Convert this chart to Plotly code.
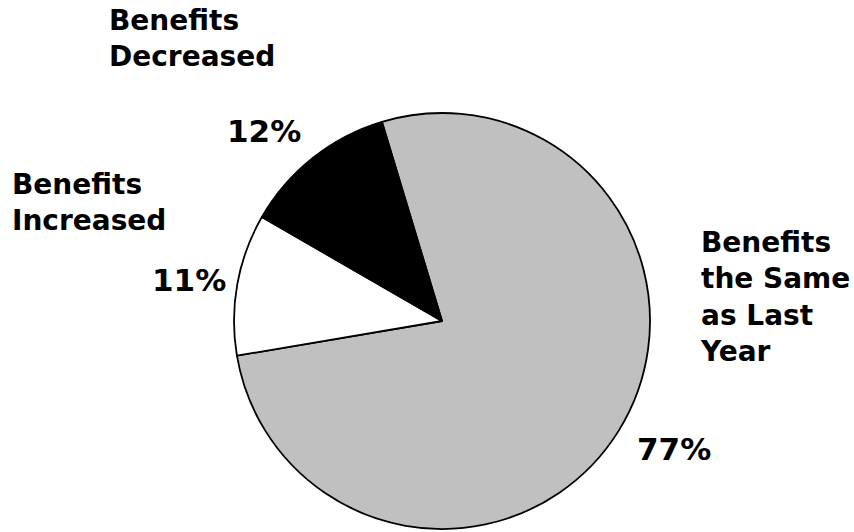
import plotly.graph_objects as go

categories = ["Benefits the Same as Last Year", "Benefits Increased", "Benefits Decreased"]
label_lines = ["Benefits<br>the Same<br>as Last<br>Year", "Benefits<br>Increased", "Benefits<br>Decreased"]
values = [77, 11, 12]
colors = ["#c0c0c0", "#ffffff", "#000000"]

W, H = 854, 532
FONT = "DejaVu Sans, Verdana, sans-serif"

fig = go.Figure(go.Pie(
    labels=categories,
    values=values,
    sort=False,
    direction="clockwise",
    rotation=-16.8,
    marker=dict(colors=colors, line=dict(color="#000000", width=1.8)),
    textinfo="none",
    hoverinfo="label+percent",
    showlegend=False,
    domain=dict(x=[234 / W, 650 / W], y=[1 - 529 / H, 1 - 113 / H]),
))

# label positions (px, top-left) and percent positions (px, center)
label_pos = [(698, 224), (10, 166), (107, 2)]
pct_pos = [(674, 449), (189, 280), (264, 131)]

ann = []
for lab, v, (lx, ly), (px, py) in zip(label_lines, values, label_pos, pct_pos):
    ann.append(dict(text=f"<b>{lab}</b>", x=lx / W, y=1 - ly / H, xref="paper", yref="paper",
                    xanchor="left", yanchor="top", align="left", showarrow=False,
                    font=dict(family=FONT, size=28, color="#000000")))
    ann.append(dict(text=f"<b>{v}%</b>", x=px / W, y=1 - py / H, xref="paper", yref="paper",
                    xanchor="center", yanchor="middle", showarrow=False,
                    font=dict(family=FONT, size=31, color="#000000")))

fig.update_layout(
    width=W, height=H,
    margin=dict(l=0, r=0, t=0, b=0),
    paper_bgcolor="#ffffff",
    plot_bgcolor="#ffffff",
    annotations=ann,
)

fig.write_html(
    "out.html",
    config={"displayModeBar": False},
    post_script="document.body.style.margin='0';document.documentElement.style.overflow='hidden';",
)
